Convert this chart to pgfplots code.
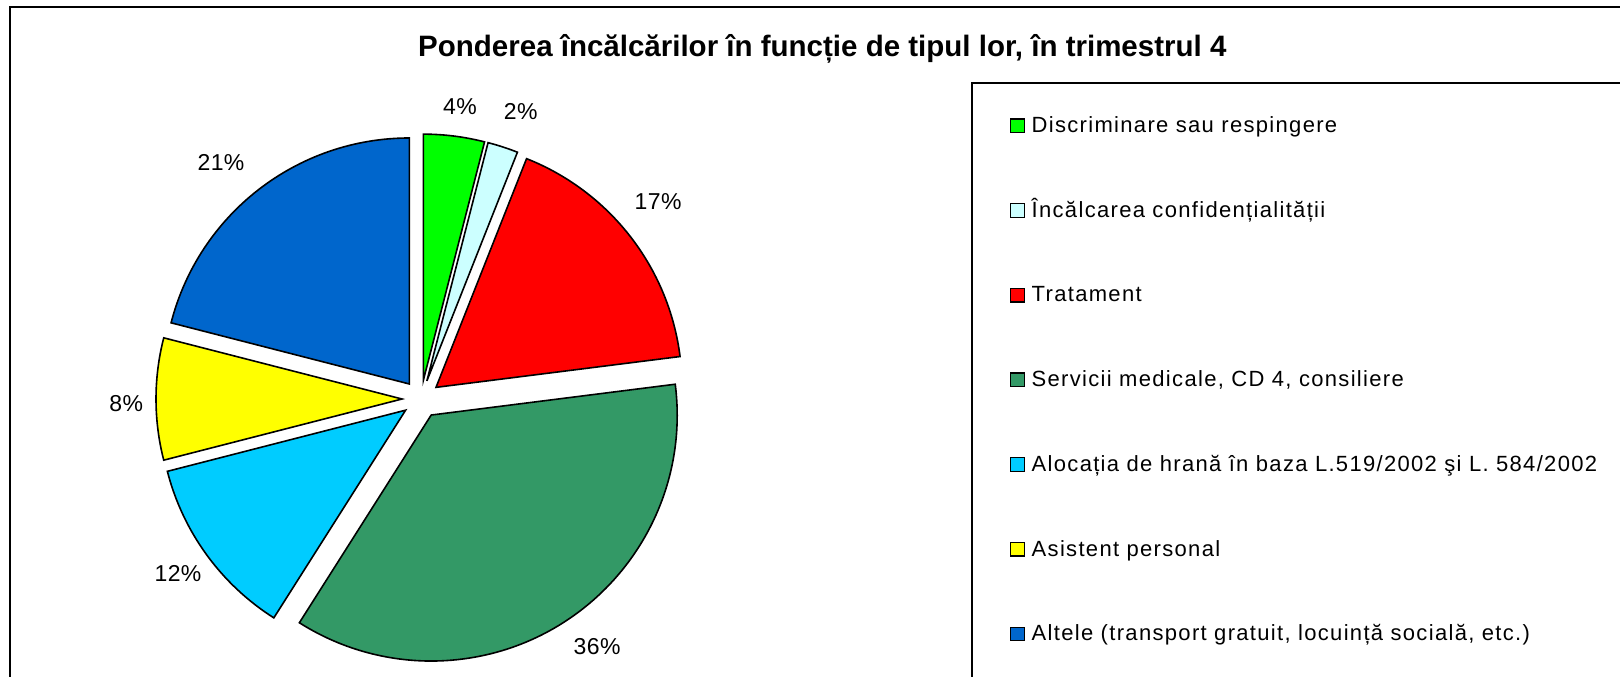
\documentclass[border=0pt]{standalone}
\usepackage{pgfplots}
\pgfplotsset{compat=1.18}
\usepackage{pgfplotstable}
\usepackage{fontspec}
\setmainfont{Liberation Sans}
\newfontfamily\labfont[LetterSpace=2]{Liberation Sans}
\newfontfamily\legfont[LetterSpace=6]{Liberation Sans}

\definecolor{cA}{HTML}{00FF00}
\definecolor{cB}{HTML}{CCFFFF}
\definecolor{cC}{HTML}{FF0000}
\definecolor{cD}{HTML}{339966}
\definecolor{cE}{HTML}{00CCFF}
\definecolor{cF}{HTML}{FFFF00}
\definecolor{cG}{HTML}{0066CC}

% share (%) of each category, clockwise from 12 o'clock
\pgfplotstableread{
value color lx    ly
4     cA    460   107
2     cB    520.7 111.7
17    cC    658   201.7
36    cD    597   646.5
12    cE    178   573.5
8     cF    126.3 403.3
21    cG    221   163
}\piedata

\def\cx{421}\def\cy{399}\def\R{246}\def\dd{19}

\begin{document}
\begin{tikzpicture}
\useasboundingbox (0,0) rectangle (1620pt,677pt);
\clip (0,0) rectangle (1620pt,677pt);
\begin{axis}[at={(0,0)}, anchor=south west, scale only axis,
  width=1620pt, height=677pt, xmin=0, xmax=1620, ymin=0, ymax=677,
  y dir=reverse, hide axis, clip=false]
% outer frame
\draw[line width=2pt, black] (axis cs:10,6.5) rectangle (axis cs:1700,760);
% title
\node[anchor=base, inner sep=0pt, font=\bfseries\fontsize{29.5}{34}\selectfont]
  at (axis cs:822.3,56.5) {Ponderea încălcărilor în funcție de tipul lor, în trimestrul 4};
% pie slices
\def\sa{90}
\pgfplotsforeachungrouped \i in {0,...,6}{%
  \pgfplotstablegetelem{\i}{value}\of\piedata \let\v\pgfplotsretval
  \pgfplotstablegetelem{\i}{color}\of\piedata \let\c\pgfplotsretval
  \pgfplotstablegetelem{\i}{lx}\of\piedata \let\lx\pgfplotsretval
  \pgfplotstablegetelem{\i}{ly}\of\piedata \let\ly\pgfplotsretval
  \pgfmathsetmacro\ea{\sa-3.6*\v}%
  \pgfmathsetmacro\ma{(\sa+\ea)/2}%
  \pgfmathsetmacro\px{\cx+\dd*cos(\ma)}%
  \pgfmathsetmacro\py{\cy-\dd*sin(\ma)}%
  \edef\temp{\noexpand\filldraw[fill=\c, draw=black, line width=1.6pt, line join=miter]
    (axis cs:\px,\py) -- ++(\sa:\R pt) arc[start angle=\sa, end angle=\ea, radius=\R pt] -- cycle;
    \noexpand\node[inner sep=0pt, font=\noexpand\labfont\noexpand\fontsize{23}{27}\noexpand\selectfont]
    at (axis cs:\lx,\ly) {\v\noexpand\%};}%
  \temp
  \let\sa\ea
}
% legend box
\draw[line width=1.6pt, black] (axis cs:972,82.7) rectangle (axis cs:1700,760);
\foreach \i/\col/\txt in {%
  0/cA/{Discriminare sau respingere},
  1/cB/{Încălcarea confidențialității},
  2/cC/{Tratament},
  3/cD/{Servicii medicale, CD 4, consiliere},
  4/cE/{Alocația de hrană în baza L.519/2002 şi L. 584/2002},
  5/cF/{Asistent personal},
  6/cG/{Altele (transport gratuit, locuință socială, etc.)}}{%
  \pgfmathsetmacro\by{132.5+84.7*\i}%
  \pgfmathsetmacro\bt{\by-13.5}%
  \edef\temp{\noexpand\filldraw[fill=\col, draw=black, line width=1.3pt]
    (axis cs:1010.5,\bt) rectangle (axis cs:1024.5,\by);
    \noexpand\node[anchor=base west, inner sep=0pt, font=\noexpand\legfont\noexpand\fontsize{22}{26}\noexpand\selectfont]
    at (axis cs:1031.5,\by) {\unexpanded\expandafter{\txt}};}%
  \temp
}
\end{axis}
\end{tikzpicture}
\end{document}
